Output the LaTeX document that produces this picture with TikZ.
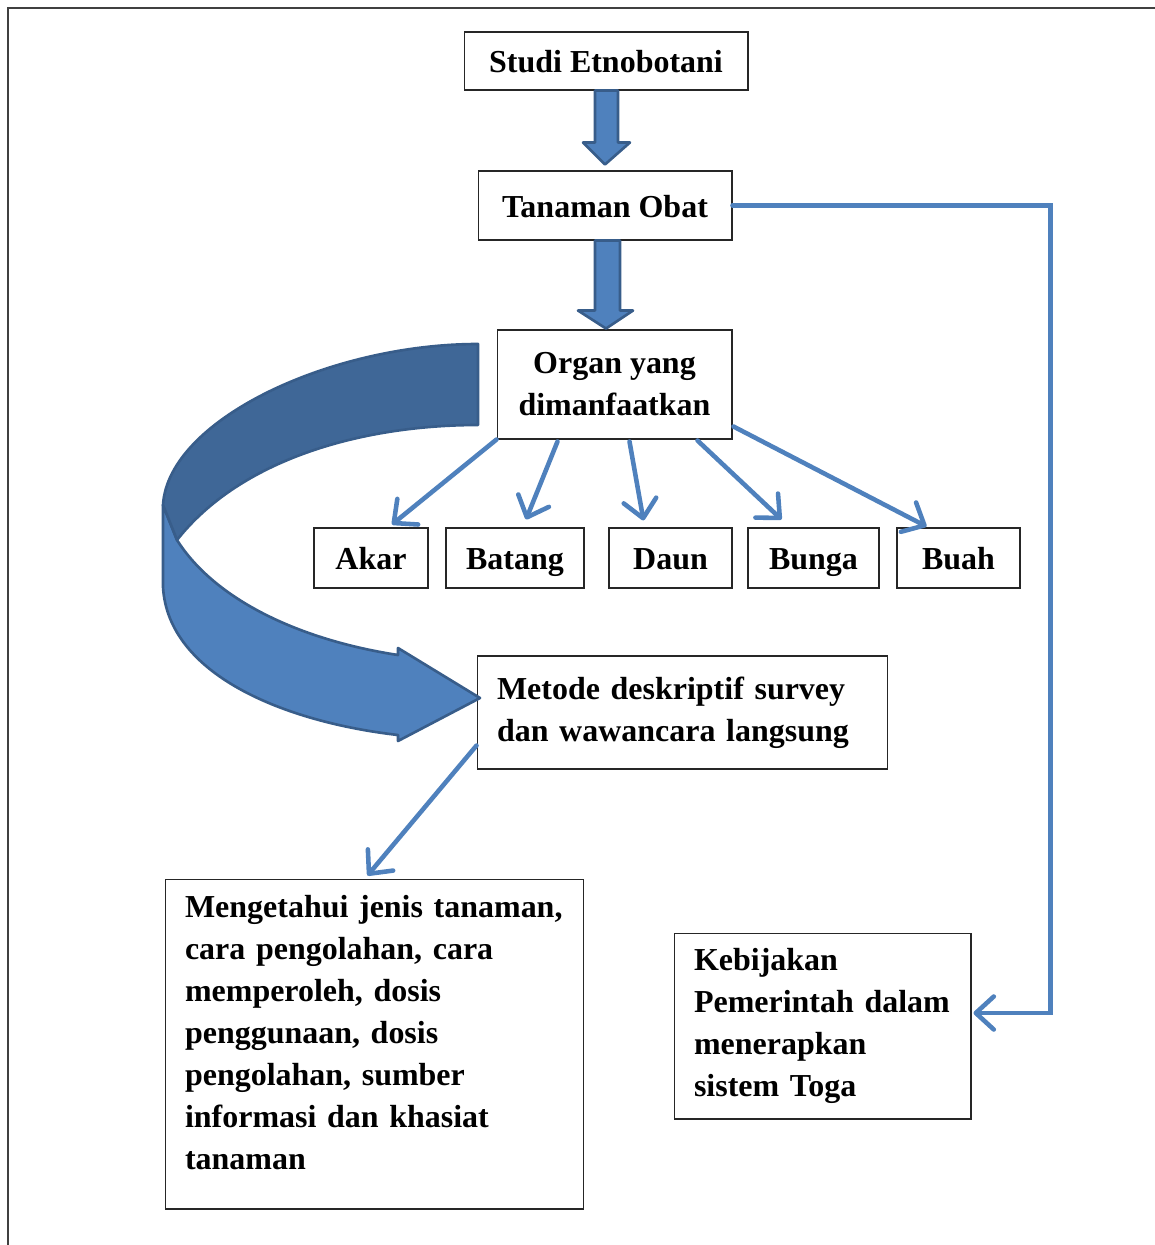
\documentclass[tikz,border=0pt]{standalone}
\usepackage{fontspec}
\setmainfont{Liberation Serif}
\usetikzlibrary{arrows.meta,calc}

\definecolor{ribbon}{RGB}{79,129,189}
\definecolor{ribbonDark}{RGB}{63,103,151}
\definecolor{ribbonEdge}{RGB}{56,93,138}
\hyphenpenalty=10000
\exhyphenpenalty=10000

\begin{document}
\begin{tikzpicture}[x=0.02cm, y=0.02cm,
	box/.style={draw=black!85, line width=0.6pt, inner sep=0pt,
		font=\fontsize{18.2}{23.9}\selectfont\bfseries},
	single/.style={box, text height=17pt, text depth=3.5pt},
	para/.style={box, align=left, inner xsep=0.4cm, text width=#1},
	fat/.style={fill=ribbon, draw=ribbonEdge, line width=1.5pt, line join=round},
	link/.style={draw=ribbon, line width=2.6pt, line cap=round,
		-{Straight Barb[length=0.36cm, width=0.66cm, round]}}]
	\useasboundingbox (0,0) rectangle (1155,-1245);
	\draw[line width=0.8pt, black!75] (8,-8) rectangle (1175,-1265);

	\node[single, minimum width=5.68cm, minimum height=1.16cm] (studi) at (606,-61) {Studi Etnobotani};
	\node[single, minimum width=5.08cm, minimum height=1.38cm] (tanaman) at (605,-205.5) {Tanaman Obat};
	\node[box, align=center, minimum width=4.7cm, minimum height=2.18cm] (organ) at (614.5,-384.5) {Organ yang\\dimanfaatkan};

	\node[single, minimum width=2.28cm, minimum height=1.2cm] (akar) at (371,-558) {Akar};
	\node[single, minimum width=2.76cm, minimum height=1.2cm] (batang) at (515,-558) {Batang};
	\node[single, minimum width=2.46cm, minimum height=1.2cm] (daun) at (670.5,-558) {Daun};
	\node[single, minimum width=2.62cm, minimum height=1.2cm] (bunga) at (813.5,-558) {Bunga};
	\node[single, minimum width=2.46cm, minimum height=1.2cm] (buah) at (958.5,-558) {Buah};

	\node[para=7.42cm, minimum height=2.26cm] (metode) at (682.5,-712.5) {Metode deskriptif survey\\dan wawancara langsung};
	\node[para=7.58cm, minimum height=6.6cm] (mengetahui) at (374.5,-1044) {Mengetahui jenis tanaman,\\cara pengolahan, cara\\memperoleh, dosis\\penggunaan, dosis\\pengolahan, sumber\\informasi dan khasiat\\tanaman\rule[-0.45cm]{0pt}{0pt}};
	\node[para=5.14cm, minimum height=3.72cm] (kebijakan) at (822.5,-1026) {Kebijakan\\Pemerintah dalam\\menerapkan\\sistem Toga};

	% thick arrows down the middle
	\filldraw[fat] ($(studi.south)+(-11,0)$) -- ($(studi.south)+(12,0)$) -- ($(tanaman.north)+(13,28)$) -- ($(tanaman.north)+(25,28)$) -- ($(tanaman.north)+(0,6)$) -- ($(tanaman.north)+(-22,28)$) -- ($(tanaman.north)+(-10,28)$) -- cycle;
	\filldraw[fat] ($(tanaman.south)+(-10,0)$) -- ($(tanaman.south)+(15,0)$) -- ($(tanaman.south)+(15,-70)$) -- ($(tanaman.south)+(28,-70)$) -- ($(tanaman.south)+(1,-88)$) -- ($(tanaman.south)+(-27,-70)$) -- ($(tanaman.south)+(-10,-70)$) -- cycle;

	% curved ribbon arrow
	\filldraw[fat] (163,-505) -- (163,-587) .. controls (168,-675) and (285,-722) .. (398,-735) -- (398,-741) -- (480,-698) -- (398,-648) -- (398,-655) .. controls (300,-640) and (215,-600) .. (177,-540) -- cycle;
	\filldraw[fat, fill=ribbonDark] (478,-344) .. controls (330,-344) and (168,-420) .. (163,-505) -- (177,-540) .. controls (240,-460) and (360,-425) .. (478,-425) -- cycle;

	% thin arrows
	\draw[link] (organ.south west) -- ($(akar.north)+(21,3)$);
	\draw[link] ($(organ.south)+(-57,-2)$) -- ($(batang.north)+(11,8)$);
	\draw[link] ($(organ.south)+(15,-2)$) -- ($(daun.north)+(-27,7)$);
	\draw[link] ($(organ.south)+(83,-1)$) -- ($(bunga.north)+(-32,8)$);
	\draw[link] ($(organ.south east)+(1,13)$) -- ($(buah.north)+(-32,1)$);
	\draw[link] ($(metode.south west)+(0,24)$) -- ($(mengetahui.north)+(-7,3)$);
	\draw[link] (tanaman.east) -- ++(318,0) |- ($(kebijakan.east)+(2,13)$);
\end{tikzpicture}
\end{document}
